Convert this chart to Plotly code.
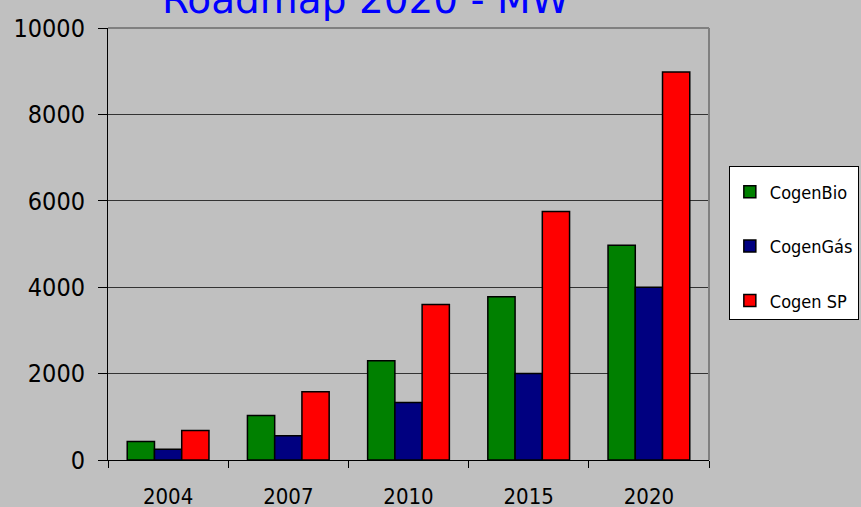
import plotly.graph_objects as go

years = ["2004", "2007", "2010", "2015", "2020"]
cogen_bio = [430, 1030, 2300, 3780, 4970]
cogen_gas = [250, 560, 1330, 2000, 4000]
cogen_sp = [680, 1580, 3600, 5750, 8980]
series_names = ["CogenBio", "CogenGás", "Cogen SP"]
y_ticks = [0, 2000, 4000, 6000, 8000, 10000]
y_tick_labels = ["0", "2000", "4000", "6000", "8000", "10000"]

colors = ["#008000", "#000080", "#FF0000"]
NARROW = "DejaVu Sans Condensed, Liberation Sans Narrow, sans-serif"

fig = go.Figure()
for i, (name, vals) in enumerate(zip(series_names, [cogen_bio, cogen_gas, cogen_sp])):
    fig.add_trace(go.Bar(
        x=years, y=vals, name=name, legendgroup=name,
        marker=dict(color=colors[i], line=dict(color="black", width=1.5)),
    ))

fig.update_layout(
    width=861, height=507, autosize=False,
    margin=dict(l=108, r=152, t=28, b=47, autoexpand=False),
    paper_bgcolor="#C0C0C0", plot_bgcolor="#C0C0C0",
    barmode="group", bargap=0.32, bargroupgap=0,
    showlegend=True,
    legend=dict(
        x=1.033, y=0.6806, xanchor="left", yanchor="top",
        bgcolor="white", bordercolor="black", borderwidth=1,
        font=dict(family=NARROW, size=18, color="black"),
        title=dict(text=" ", font=dict(size=5)),
        tracegroupgap=28, traceorder="grouped",
    ),
    xaxis=dict(
        type="category", showline=True, linecolor="black", linewidth=1,
        ticks="outside", tickson="boundaries", ticklen=7, tickcolor="black",
        tickfont=dict(family=NARROW, size=22, color="black"),
        ticklabelstandoff=17, showgrid=False,
    ),
    yaxis=dict(
        range=[0, 10000], tickvals=y_ticks, ticktext=y_tick_labels,
        showline=True, linecolor="black", linewidth=1,
        ticks="outside", ticklen=9, tickcolor="black",
        tickfont=dict(family=NARROW, size=25, color="black"),
        showgrid=True, gridcolor="#333333", gridwidth=1, zeroline=False,
        ticklabelstandoff=8,
    ),
    shapes=[
        dict(type="line", xref="paper", yref="paper", x0=0, x1=1, y0=1, y1=1,
             line=dict(color="#808080", width=2)),
        dict(type="line", xref="paper", yref="paper", x0=1, x1=1, y0=0, y1=1,
             line=dict(color="#808080", width=2)),
    ],
    annotations=[
        dict(text="Roadmap 2020 - MW", xref="paper", yref="paper",
             x=(365 - 108) / 601, y=1.009, xanchor="center", yanchor="bottom",
             showarrow=False, font=dict(family="DejaVu Sans", size=39, color="#0000FF")),
    ],
)

fig.write_html("out.html", config={"displayModeBar": False},
               post_script="document.body.style.margin='0';")
